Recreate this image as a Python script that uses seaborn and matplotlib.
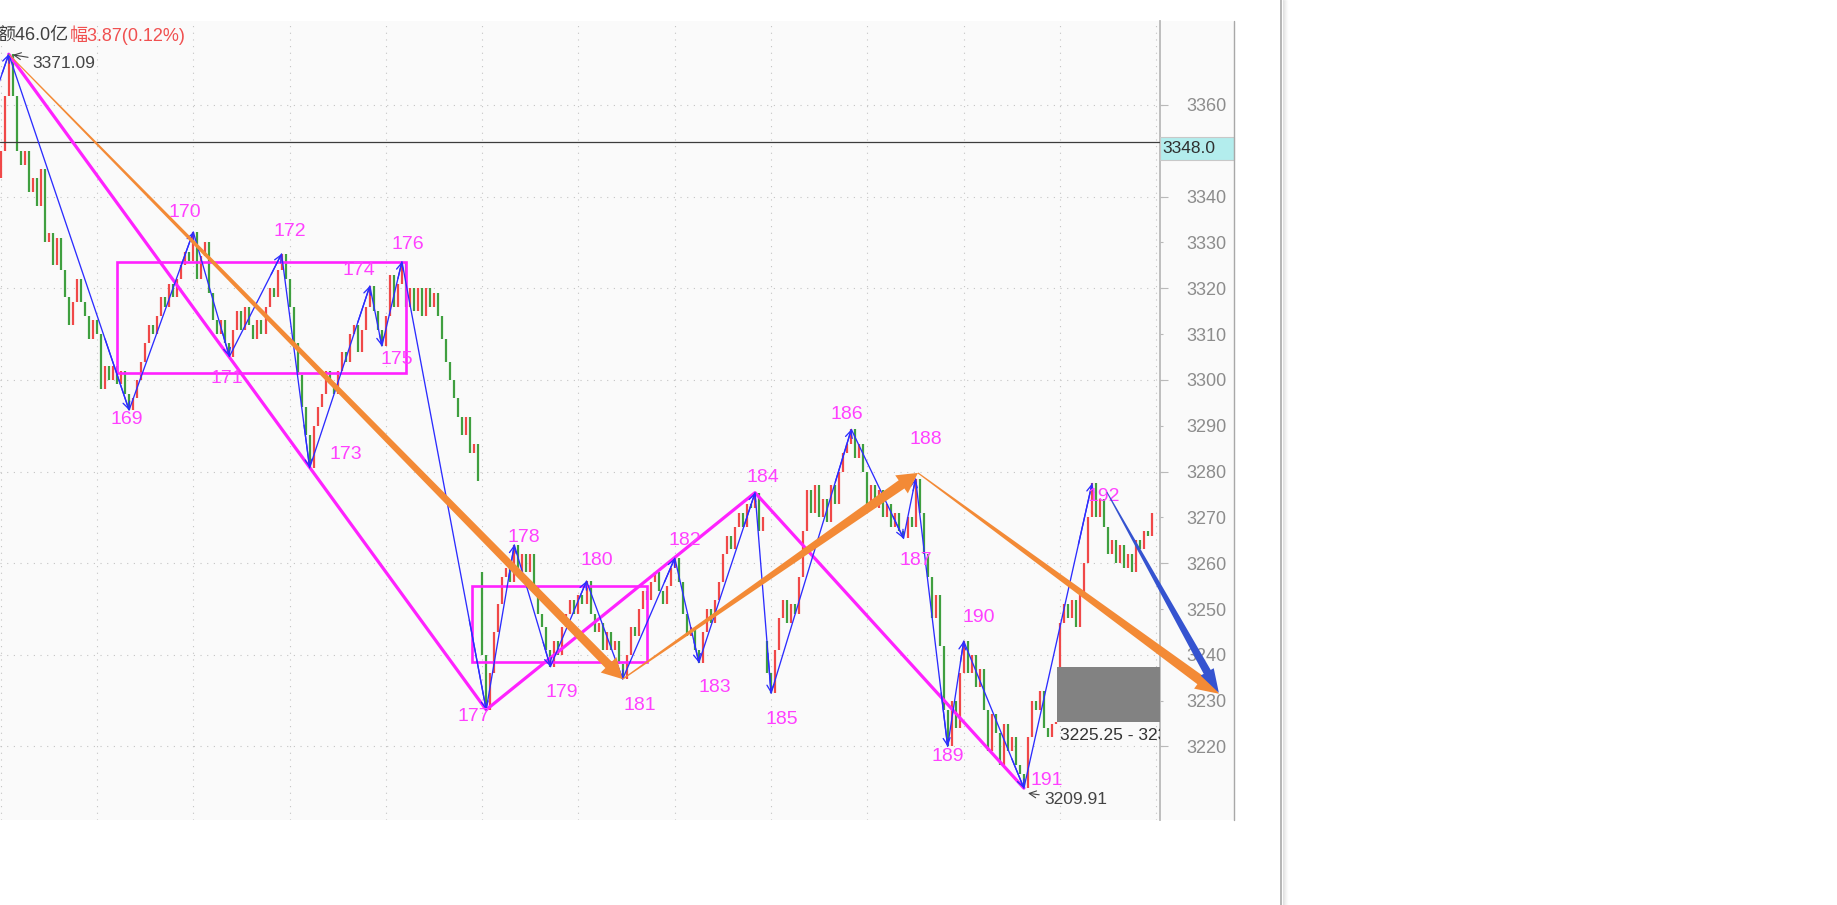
import numpy as np
import pandas as pd
import matplotlib
matplotlib.use("Agg")
import matplotlib.pyplot as plt
from matplotlib.patches import Rectangle, Polygon
from matplotlib.lines import Line2D
from matplotlib.transforms import IdentityTransform
import seaborn as sns

# === Bar closes (one per bar) ===
closes = [
    3350, 3362, 3371.09, 3362, 3350, 3347, 3350, 3341, 3344, 3338,
    3346, 3330, 3332, 3325, 3331, 3324, 3318, 3312, 3317, 3322,
    3317, 3314, 3309, 3313, 3310, 3298, 3303, 3300, 3303, 3299,
    3302, 3297, 3293.4, 3296, 3300, 3304, 3308, 3312, 3310, 3314,
    3318, 3316, 3321, 3318, 3322, 3325, 3328, 3326, 3332.3, 3322,
    3327, 3330, 3319, 3313, 3310, 3313, 3308, 3305.1, 3311, 3315,
    3311, 3316, 3312, 3309, 3313, 3310, 3316, 3320, 3318, 3324,
    3327.5, 3322, 3316, 3308, 3301, 3294, 3288, 3280.8, 3290, 3294,
    3297, 3302, 3299, 3297, 3302, 3306, 3304, 3310, 3312, 3306,
    3311, 3316, 3320.5, 3315, 3311, 3307.4, 3314, 3323, 3316, 3321,
    3325.8, 3316, 3320, 3315, 3320, 3314, 3320, 3316, 3319, 3314,
    3309, 3304, 3300, 3296, 3292, 3288, 3292, 3284, 3286, 3278,
    # day 2
    3240, 3228, 3236, 3245, 3251, 3257, 3259, 3256, 3264, 3258,
    3262, 3258, 3262, 3255, 3249, 3246, 3241, 3237.4, 3243, 3240,
    3246, 3249, 3252, 3249, 3253, 3251, 3256.1, 3249, 3245, 3247,
    3241, 3245, 3241, 3243, 3238, 3234.7, 3240, 3246, 3244, 3250,
    3254, 3252, 3256, 3258, 3254, 3251, 3255, 3259, 3261.1, 3256,
    3249, 3244, 3246, 3241, 3238.3, 3245, 3250, 3247, 3252, 3256,
    3262, 3266, 3263, 3268, 3271, 3268, 3273, 3272, 3275.4, 3267,
    3270,
    # day 3
    3236, 3231.6, 3241, 3248, 3252, 3247, 3251, 3249, 3257,
    3267, 3276, 3271, 3277, 3270, 3274, 3269, 3277, 3273, 3280,
    3284, 3286, 3289.2, 3283, 3286, 3280, 3272, 3277, 3272, 3276,
    3270, 3273, 3268, 3271, 3267, 3265.4, 3270, 3268, 3278.4, 3271,
    3262, 3257, 3248, 3253, 3242, 3228, 3220.0, 3230, 3224, 3236,
    3243.0, 3236, 3240, 3233, 3237, 3228, 3219, 3227, 3223, 3216,
    3225, 3219, 3222, 3216, 3214, 3210.9, 3222, 3230, 3228, 3232,
    3224, 3222, 3225, 3225.25,
    # day 4
    3247, 3251, 3248, 3252, 3246, 3253, 3260, 3270, 3277.4, 3270,
    3274, 3268, 3262, 3265, 3260, 3264, 3259, 3262, 3258, 3265,
    3263, 3267, 3266, 3271,
]
gap_opens = {0: 3344.0, 120: 3258.0, 191: 3243.0, 264: 3237.40}

# === Zigzag pivots (blue) ===
zz_bars = [-6, 2, 32, 48, 57, 70, 77, 92, 95, 100, 121, 128, 137, 146, 155,
           168, 174, 188, 192, 212, 225, 228, 236, 240, 255, 272]
zz_vals = [3350.5, 3371.09, 3293.4, 3332.3, 3305.1, 3327.5, 3280.8, 3320.5,
           3307.4, 3325.8, 3228.0, 3264.0, 3237.4, 3256.1, 3234.7, 3261.1,
           3238.3, 3275.4, 3231.6, 3289.2, 3265.4, 3278.4, 3220.0, 3243.0,
           3210.9, 3277.4]
zz_labels = ['', '', '169', '170', '171', '172', '173', '174', '175', '176',
             '177', '178', '179', '180', '181', '182', '183', '184', '185',
             '186', '187', '188', '189', '190', '191', '192']
# label offsets from pivot, pixels (dx right, dy down)
label_offsets = [(0, 0), (0, 0), (-2, 9), (-8, -19), (-3, 22), (8, -22),
                 (36, -13), (-11, -15), (15, 14), (6, -17), (-12, 7), (10, -7),
                 (11, 26), (10, -21), (17, 26), (10, -18), (16, 25), (8, -15),
                 (11, 26), (-5, -15), (12, 22), (10, -39), (0, 10), (15, -24),
                 (23, -8), (12, 13)]

# === Magenta trend line and range boxes ===
trend_bars = [2, 121, 188, 255]
trend_vals = [3371.09, 3228.0, 3275.4, 3210.9]
box_x0 = [29.1, 117.4]
box_x1 = [101.0, 161.0]
box_lo = [3301.6, 3238.5]
box_hi = [3325.7, 3255.0]

# === Projection arrows ===
orange_start = [(2, 3371.09), (155, 3234.7), (228.6, 3279.7)]
orange_end = [(155, 3234.7), (228.6, 3279.7), (303.6, 3231.5)]
blue_start = (275.7, 3275.5)
blue_end = (303.6, 3231.7)

price_line = 3352.0
price_tag = "3348.0"
gap_low, gap_high = 3225.25, 3237.40
high_mark, low_mark = 3371.09, 3209.91

ytick_vals = list(range(3220, 3361, 10))

# ---------------------------------------------------------------
sns.set_style("white")
plt.rcParams['font.family'] = ['Liberation Sans', 'Noto Sans CJK SC', 'DejaVu Sans']

W, H = 1837, 905
BAR_PX = 4.0125
fig = plt.figure(figsize=(W / 100, H / 100), dpi=100)
fig.patch.set_facecolor('white')
ax = fig.add_axes([0, (H - 820) / H, 1160 / W, 799 / H])
ax.set_facecolor('#fafafa')

# candles
opens = [gap_opens.get(i, closes[i - 1]) for i in range(len(closes))]
bars = np.arange(len(closes))
o = np.array(opens)
c = np.array(closes)
cols = np.where(c >= o, '#f04848', '#3f9f3f')
ax.vlines(bars, np.minimum(o, c), np.maximum(o, c), colors=cols, lw=1.6, zorder=2)

# magenta range boxes
for x0, x1, lo, hi in zip(box_x0, box_x1, box_lo, box_hi):
    ax.add_patch(Rectangle((x0, lo), x1 - x0, hi - lo, fill=False,
                           edgecolor='#ff22ff', lw=1.9, zorder=4))

# magenta trend line
trend = pd.DataFrame({'bar': trend_bars, 'price': trend_vals})
sns.lineplot(data=trend, x='bar', y='price', sort=False, estimator=None,
             color='#ff22ff', lw=2.3, ax=ax, zorder=4)

# blue zigzag
zz = pd.DataFrame({'bar': zz_bars, 'price': zz_vals})
sns.lineplot(data=zz, x='bar', y='price', sort=False, estimator=None,
             color='#2c2cff', lw=0.95, ax=ax, zorder=5)
for b0, v0, b1, v1 in zip(zz_bars[:-1], zz_vals[:-1], zz_bars[1:], zz_vals[1:]):
    ax.annotate('', xy=(b1, v1), xytext=(b1 - 0.2 * (b1 - b0), v1 - 0.2 * (v1 - v0)),
                arrowprops=dict(arrowstyle='->,head_length=0.5,head_width=0.25',
                                color='#2c2cff', lw=0.95, shrinkA=0, shrinkB=0),
                zorder=5)

for b, v, lab, (dx, dy) in zip(zz_bars, zz_vals, zz_labels, label_offsets):
    if lab:
        ax.annotate(lab, xy=(b, v), xytext=(dx, -dy), textcoords='offset pixels',
                    ha='center', va='center', color='#ff40ff', fontsize=14, zorder=7)

# horizontal price line + tag
ax.axhline(price_line, color='#3c3c3c', lw=0.9, zorder=3)
ax.add_patch(Rectangle((1.0, 3348.0), 74 / 1160, 5.0, transform=ax.get_yaxis_transform(),
                       facecolor='#b3eded', edgecolor='#c8c8c8', lw=0.8, clip_on=False, zorder=6))
ax.text(1.002, 3350.5, price_tag, transform=ax.get_yaxis_transform(), ha='left', va='center',
        fontsize=12.5, color='#303030', zorder=7)

# gap box
xmax = -0.17 + 1160 / BAR_PX
ax.add_patch(Rectangle((263.2, gap_low), xmax - 263.2, gap_high - gap_low,
                       facecolor='#828282', edgecolor='none', zorder=3))
ax.annotate(f'{gap_low:.2f} - {gap_high:.2f}', xy=(263.2, gap_low), xytext=(3, -6),
            textcoords='offset pixels', ha='left', va='top', fontsize=12.5,
            color='#333333', clip_on=True, zorder=7)

# high / low marks
ax.annotate(f'{high_mark:.2f}', xy=(2, high_mark), xytext=(24, -9), textcoords='offset pixels',
            ha='left', va='center', fontsize=12.5, color='#444444',
            arrowprops=dict(arrowstyle='->', color='#444444', lw=0.8, shrinkA=1, shrinkB=3))
ax.annotate(f'{low_mark:.2f}', xy=(255, low_mark), xytext=(20, -7), textcoords='offset pixels',
            ha='left', va='center', fontsize=12.5, color='#444444',
            arrowprops=dict(arrowstyle='->', color='#444444', lw=0.8, shrinkA=1, shrinkB=3))

# axes cosmetics
ax.set_xlim(-0.17, xmax)
ax.set_ylim(3203.95, 3378.33)
ax.set_xlabel('')
ax.set_ylabel('')
for s in ['top', 'left', 'bottom']:
    ax.spines[s].set_visible(False)
ax.spines['right'].set_color('#b9b9b9')
ax.spines['right'].set_linewidth(1.3)
ax.yaxis.tick_right()
ax.set_yticks(ytick_vals)
ax.set_yticklabels(['' if v == 3350 else str(v) for v in ytick_vals])
ax.set_yticks(ytick_vals[::2], minor=True)
ax.yaxis.remove_overlapping_locs = False
ax.tick_params(axis='y', which='major', length=2.2, width=0.8, color='#b9b9b9',
               pad=16.5, labelsize=13, labelcolor='#8c8c8c', direction='out')
ax.tick_params(axis='y', which='minor', length=5.8, width=0.8, color='#b9b9b9', direction='out')
ax.set_xticks(np.arange(0, 289, 24))
ax.tick_params(axis='x', which='both', length=0, labelbottom=False)
ax.grid(False)
ax.grid(True, axis='x', which='major', color='#c4c4c4', linestyle=(0, (1, 5)), lw=0.8)
ax.grid(True, axis='y', which='minor', color='#c4c4c4', linestyle=(0, (1, 5)), lw=0.8)
ax.set_axisbelow(True)


def taper_arrow(start, end, w0, w1, head_len, head_w, color):
    p0 = ax.transData.transform(start)
    p1 = ax.transData.transform(end)
    d = p1 - p0
    u = d / np.hypot(*d)
    n = np.array([-u[1], u[0]])
    base = p1 - u * head_len
    pts = [p0 + n * w0 / 2, base + n * w1 / 2, base + n * head_w / 2, p1,
           base - n * head_w / 2, base - n * w1 / 2, p0 - n * w0 / 2]
    fig.add_artist(Polygon(pts, closed=True, transform=IdentityTransform(),
                           facecolor=color, edgecolor='none', zorder=6))


taper_arrow(orange_start[0], orange_end[0], 1.0, 9, 20, 22, '#f38a36')
taper_arrow(orange_start[1], orange_end[1], 1.2, 10, 20, 22, '#f38a36')
taper_arrow(orange_start[2], orange_end[2], 1.2, 10, 23, 21, '#f38a36')
taper_arrow(blue_start, blue_end, 1.0, 8, 24, 15, '#3553d0')

# label panel right of the price axis
fig.add_artist(Rectangle((1160 / W, (H - 820) / H), 74 / W, 799 / H, transform=fig.transFigure,
                         facecolor='#fafafa', edgecolor='none', zorder=-1))
fig.add_artist(Line2D([1234 / W] * 2, [(H - 820) / H, (H - 21) / H], transform=fig.transFigure,
                      color='#a8a8a8', lw=1.0))
# window edge with soft shadow
fig.add_artist(Line2D([1281 / W] * 2, [0, 1], transform=fig.transFigure, color='#a9a9a9', lw=1.2))
for k, a in enumerate([0.35, 0.25, 0.16, 0.09, 0.04]):
    fig.add_artist(Line2D([(1282.5 + k) / W] * 2, [0, 1], transform=fig.transFigure,
                          color='#b0b0b0', alpha=a, lw=0.8))

# header text
fig.text(-3 / W, 1 - 35 / H, '额46.0亿', ha='left', va='center', fontsize=13, color='#404040')
fig.text(70 / W, 1 - 35 / H, '幅3.87(0.12%)', ha='left', va='center', fontsize=13, color='#f05050')

fig.savefig('out.png', dpi=100, facecolor='white')
